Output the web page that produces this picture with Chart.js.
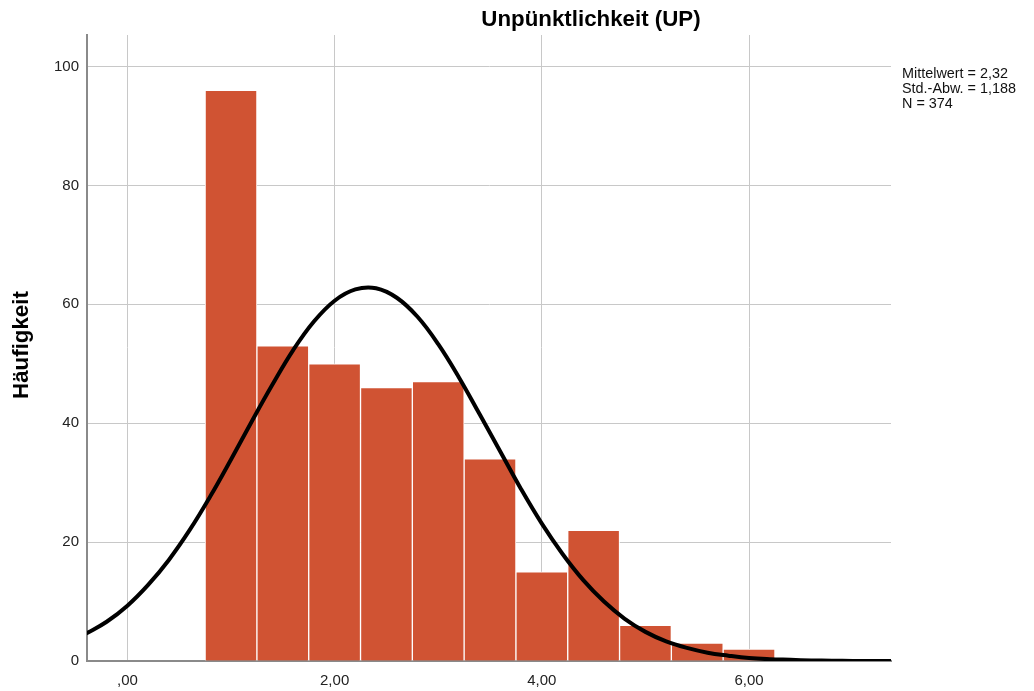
<!DOCTYPE html>
<html>
<head>
<meta charset="utf-8">
<script src="https://cdn.jsdelivr.net/npm/chart.js@4/dist/chart.umd.min.js"></script>
<style>
  html, body { margin: 0; padding: 0; background: #fff; }
  #wrap { width: 1034px; height: 691px; position: relative; }
</style>
</head>
<body>
<div id="wrap"><canvas id="hist"></canvas></div>
<script>
const binCenters = [1.0, 1.5, 2.0, 2.5, 3.0, 3.5, 4.0, 4.5, 5.0, 5.5, 6.0];
const binCounts = [96, 53, 50, 46, 47, 34, 15, 22, 6, 3, 2];

// normal curve
const curveX = [-0.4, -0.2, 0.0, 0.2, 0.4, 0.6, 0.8, 1.0, 1.2, 1.4, 1.6, 1.8, 2.0, 2.2, 2.4,
  2.6, 2.8, 3.0, 3.2, 3.4, 3.6, 3.8, 4.0, 4.2, 4.4, 4.6, 4.8, 5.0, 5.2, 5.4, 5.6, 5.8,
  6.0, 6.2, 6.4, 6.6, 6.8, 7.0, 7.2, 7.4];
const curveY = [4.6, 6.6, 9.3, 12.8, 17.0, 22.0, 27.7, 33.9, 40.3, 46.5, 52.3, 57.1, 60.6, 62.5, 62.7,
  61.1, 57.9, 53.3, 47.7, 41.5, 35.2, 28.9, 23.1, 18.0, 13.6, 10.0, 7.1, 4.9, 3.3, 2.2, 1.4, 0.9,
  0.5, 0.3, 0.2, 0.1, 0.05, 0.02, 0.01, 0.0];

const xTickValues = [0, 2, 4, 6];
const xTickLabels = [',00', '2,00', '4,00', '6,00'];
const yTickValues = [0, 20, 40, 60, 80, 100];
const yTickLabels = ['0', '20', '40', '60', '80', '100'];

const titleText = 'Unpünktlichkeit (UP)';
const yAxisText = 'Häufigkeit';
const statsLines = ['Mittelwert = 2,32', 'Std.-Abw. = 1,188', 'N = 374'];

const fontFamily = '"Liberation Sans", Arial, sans-serif';

const textPlugin = {
  id: 'spssText',
  afterDraw(chart) {
    const ctx = chart.ctx;
    ctx.save();
    ctx.fillStyle = '#000';
    ctx.font = 'bold 22.3px ' + fontFamily;
    ctx.textAlign = 'center';
    ctx.textBaseline = 'middle';
    ctx.fillText(titleText, 591, 20);

    ctx.save();
    ctx.translate(22, 345);
    ctx.rotate(-Math.PI / 2);
    ctx.fillText(yAxisText, 0, 0);
    ctx.restore();

    ctx.font = '14.4px ' + fontFamily;
    ctx.textAlign = 'left';
    ctx.fillStyle = '#111';
    statsLines.forEach((s, i) => ctx.fillText(s, 902, 74 + i * 15));
    ctx.restore();
  }
};

new Chart(document.getElementById('hist'), {
  type: 'bar',
  data: {
    datasets: [
      {
        type: 'line',
        data: curveX.map((x, i) => ({ x: x, y: curveY[i] })),
        borderColor: '#000',
        borderWidth: 4,
        pointRadius: 0,
        tension: 0.4,
        fill: false,
        clip: 0,
        order: 0,
      },
      {
        type: 'bar',
        data: binCenters.map((x, i) => ({ x: x, y: binCounts[i] })),
        backgroundColor: '#d05333',
        borderColor: '#ffffff',
        borderWidth: 1,
        barPercentage: 1,
        categoryPercentage: 1,
        order: 1,
      },
    ],
  },
  options: {
    responsive: true,
    maintainAspectRatio: false,
    animation: false,
    layout: { padding: { top: 35, right: 143, left: 0, bottom: 0 } },
    plugins: { legend: { display: false }, tooltip: { enabled: false }, title: { display: false } },
    scales: {
      x: {
        type: 'linear',
        min: -0.39,
        max: 7.37,
        offset: false,
        afterFit: (s) => { s.height = 30; },
        afterBuildTicks: (s) => { s.ticks = xTickValues.map(v => ({ value: v })); },
        grid: { color: '#c8c8c8', lineWidth: 1, drawTicks: false, offset: false },
        border: { color: '#8a8a8a', width: 2 },
        ticks: {
          padding: 11,
          color: '#222',
          font: { family: fontFamily, size: 15 },
          callback: (v) => xTickLabels[xTickValues.indexOf(v)],
        },
      },
      y: {
        min: 0,
        max: 105.3,
        afterFit: (s) => { s.width = 87; },
        afterBuildTicks: (s) => { s.ticks = yTickValues.map(v => ({ value: v })); },
        grid: { color: '#c8c8c8', lineWidth: 1, drawTicks: false },
        border: { color: '#8a8a8a', width: 2 },
        ticks: {
          padding: 8,
          color: '#222',
          font: { family: fontFamily, size: 15 },
          callback: (v) => yTickLabels[yTickValues.indexOf(v)],
        },
      },
    },
  },
  plugins: [textPlugin],
});
</script>
</body>
</html>
